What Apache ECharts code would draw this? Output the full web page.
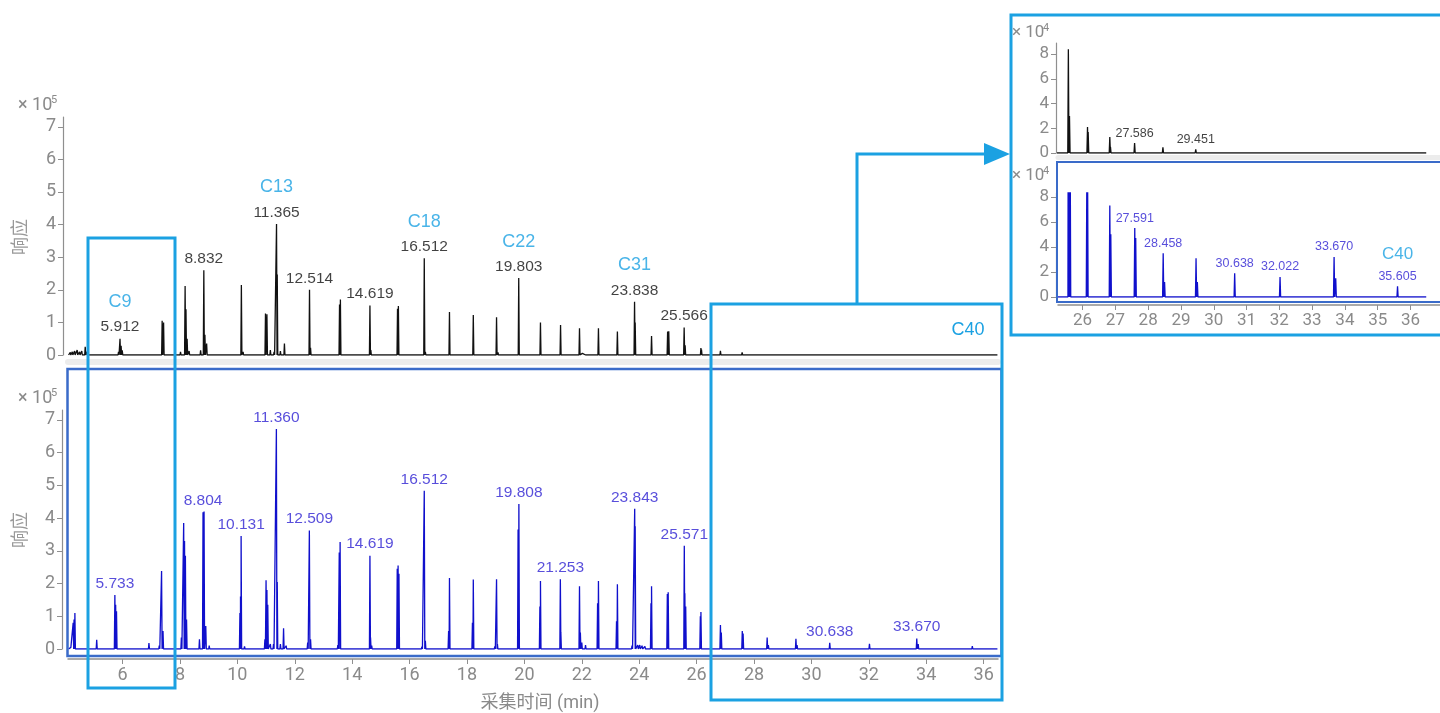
<!DOCTYPE html>
<html><head><meta charset="utf-8">
<script src="https://cdn.jsdelivr.net/npm/echarts@6/dist/echarts.min.js"></script>
<style>html,body{margin:0;padding:0;background:#fff}#c{width:1440px;height:713px}</style>
</head><body><div id="c"></div>
<script>
// ---- data: peaks as [retention time (min), response (x10^5)] ----
const blackPeaks = [
 [4.18,0.08],[4.25,0.1],[4.33,0.12],[4.42,0.15],[4.5,0.1],[4.58,0.12],[4.7,0.25],[4.76,0.1],
 [5.05,0.04],[5.25,0.05],[5.4,0.03],
 [5.86,0.1],[5.912,0.5],[5.95,0.28],[5.99,0.14],
 [6.35,0.03],[6.9,0.06],[7.2,0.04],
 [7.38,1.05],[7.43,1.0],[7.6,0.04],
 [8.02,0.1],[8.18,2.12],[8.21,1.4],[8.25,0.5],[8.32,0.12],
 [8.72,0.14],[8.832,2.6],[8.87,0.62],[8.93,0.35],
 [9.45,0.04],[9.85,0.05],
 [10.14,2.15],[10.2,0.1],
 [10.98,1.27],[11.03,1.25],[11.15,0.15],[11.28,0.1],
 [11.365,4.02],[11.39,2.47],[11.5,0.12],[11.64,0.35],[11.78,0.06],
 [12.514,2.0],[12.55,0.22],
 [13.56,1.55],[13.59,1.7],[13.85,0.05],
 [14.619,1.52],[14.65,0.15],
 [15.58,1.42],[15.61,1.5],
 [16.512,2.97],[16.55,0.1],
 [17.39,1.32],
 [18.22,1.23],
 [19.03,1.16],[19.08,0.08],
 [19.803,2.36],
 [20.56,1.0],
 [21.26,0.92],
 [21.92,0.82],[22.02,0.05],[22.15,0.04],
 [22.58,0.82],
 [23.24,0.72],
 [23.838,1.63],[23.86,1.0],[24.0,0.04],
 [24.43,0.58],
 [24.99,0.72],[25.03,0.73],
 [25.566,0.84],[25.6,0.3],
 [26.15,0.21],[26.17,0.17],[26.83,0.13],[26.85,0.05],[27.586,0.08],[28.45,0.045],[29.451,0.03],
 [30.66,0.012],[32.07,0.006],[33.69,0.008]
];
const bluePeaks = [
 [4.2,0.05],[4.28,0.8],[4.31,0.9],[4.34,1.1],[4.45,0.06],[4.6,0.05],[4.88,0.04],
 [5.1,0.28],[5.3,0.04],[5.5,0.03],
 [5.733,1.65],[5.76,1.35],[5.79,1.15],[5.9,0.05],
 [6.2,0.04],[6.6,0.03],[6.92,0.18],[7.0,0.06],
 [7.28,0.1],[7.36,2.38],[7.41,0.55],[7.55,0.06],[7.75,0.05],
 [8.05,0.35],[8.13,3.85],[8.16,3.3],[8.19,2.85],[8.23,0.9],[8.35,0.06],
 [8.68,0.3],[8.804,4.18],[8.84,4.2],[8.9,0.7],[9.02,0.1],
 [9.45,0.06],[9.65,0.06],
 [10.09,1.1],[10.11,1.6],[10.131,3.45],[10.25,0.08],
 [10.75,0.06],[10.96,0.3],[11.0,2.1],[11.03,1.8],[11.06,1.35],[11.15,0.15],[11.26,0.15],
 [11.36,6.72],[11.39,2.05],[11.5,0.15],[11.61,0.63],[11.7,0.1],[11.85,0.06],
 [12.45,0.2],[12.509,3.62],[12.55,0.3],[12.68,0.05],
 [13.25,0.04],[13.5,0.12],[13.55,2.95],[13.58,3.27],
 [14.619,2.85],[14.64,0.35],[14.68,0.1],
 [15.57,2.45],[15.6,2.55],[15.63,2.3],
 [16.05,0.04],[16.43,0.07],[16.512,4.83],[16.55,0.25],
 [17.36,0.55],[17.39,2.17],
 [18.19,0.8],[18.22,2.12],
 [18.97,0.08],[19.03,2.13],[19.06,0.15],
 [19.78,3.65],[19.808,4.43],
 [20.54,1.3],[20.56,2.08],
 [21.253,2.13],[21.27,0.5],
 [21.92,1.92],[21.95,0.5],[22.0,0.2],[22.13,0.12],
 [22.55,1.4],[22.58,2.08],
 [23.21,0.85],[23.24,1.98],
 [23.4,0.05],[23.55,0.06],[23.75,0.1],[23.843,4.28],[23.86,3.75],[23.95,0.12],[24.02,0.12],[24.1,0.1],[24.2,0.08],
 [24.41,1.4],[24.43,1.92],
 [24.98,1.68],[25.01,1.73],
 [25.571,3.15],[25.59,1.7],[25.62,1.3],
 [26.13,1.0],[26.15,1.13],
 [26.83,0.73],[26.86,0.5],
 [27.591,0.55],[27.62,0.47],
 [28.458,0.35],[28.5,0.12],
 [29.46,0.31],[29.5,0.12],
 [30.638,0.19],
 [32.022,0.16],
 [33.67,0.32],[33.72,0.15],
 [35.605,0.085]
];
const traceSpan = [4.12, 36.48];
// labels: [retention time, text, compound]
const blackMainLabels = [[5.912,'5.912','C9'],[8.832,'8.832',''],[11.365,'11.365','C13'],[12.514,'12.514',''],[14.619,'14.619',''],[16.512,'16.512','C18'],[19.803,'19.803','C22'],[23.838,'23.838','C31'],[25.566,'25.566','']];
const blueMainLabels = [[5.733,'5.733',''],[8.804,'8.804',''],[10.131,'10.131',''],[11.36,'11.360',''],[12.509,'12.509',''],[14.619,'14.619',''],[16.512,'16.512',''],[19.808,'19.808',''],[21.253,'21.253',''],[23.843,'23.843',''],[25.571,'25.571',''],[30.638,'30.638',''],[33.67,'33.670','']];
const blackInsetLabels = [[27.586,'27.586',''],[29.451,'29.451','']];
const blueInsetLabels = [[27.591,'27.591',''],[28.458,'28.458',''],[30.638,'30.638',''],[32.022,'32.022',''],[33.67,'33.670',''],[35.605,'35.605','C40']];
const mainXTicks = [6,8,10,12,14,16,18,20,22,24,26,28,30,32,34,36];
const mainYTicks = [0,1,2,3,4,5,6,7];
const insetXTicks = [26,27,28,29,30,31,32,33,34,35,36];
const insetYTicks = [0,2,4,6,8];
const insetScale = 10; // inset axes are in x10^4

// ---- build ----
const W = 0.018;
function trace(peaks, scale){
  const s = peaks.slice().sort((a,b)=>a[0]-b[0]);
  const pts = [[traceSpan[0],0]];
  s.forEach(([t,h])=>{ pts.push([t-W,0],[t,h*scale],[t+W,0]); });
  pts.push([traceSpan[1],0]);
  return pts;
}
function heightAt(peaks,t){ const p = peaks.find(q=>Math.abs(q[0]-t)<1e-9); return p?p[1]:0; }
function labelData(peaks, labels, scale){
  return labels.map(([t,txt,cmp])=>({value:[t, heightAt(peaks,t)*scale], lbl: cmp ? '{cmp|'+cmp+'}\n{num|'+txt+'}' : '{num|'+txt+'}'}));
}
const CYAN = '#1ba1e2', NAVY = '#3a6bc9', GRAY = '#8a8a8a', AXIS = '#8f8f8f';
const BLK = '#111111', BLU = '#1010cc', BLUTXT = '#2e22d2';
const FONT = 'Roboto, "Liberation Sans", Arial, sans-serif';
const LFONT = '"Liberation Sans", Arial, sans-serif';

function xAx(grid, min, max, opt){
  return Object.assign({type:'value', gridIndex:grid, min:min, max:max, splitLine:{show:false}}, opt);
}
function yAx(grid, max, ticks, fs, offset){
  return {type:'value', gridIndex:grid, min:0, max:max, offset:offset, splitLine:{show:false},
    axisLine:{show:true, onZero:false, lineStyle:{color:AXIS, width:1.2}},
    axisTick:{show:true, customValues:ticks, length:5, lineStyle:{color:AXIS}},
    axisLabel:{show:true, customValues:ticks, color:GRAY, fontSize:fs, fontFamily:FONT, margin:7}};
}
function labelSeries(xi, data, numColor, numSize, numLH, cmpSize, cmpLH){
  return {type:'scatter', xAxisIndex:xi, yAxisIndex:xi, data:data, symbolSize:1, silent:true,
    itemStyle:{color:'rgba(0,0,0,0)'}, z:5,
    label:{show:true, position:'top', distance:2, formatter:p=>p.data.lbl,
      rich:{num:{color:numColor, fontSize:numSize, lineHeight:numLH, fontFamily:LFONT},
            cmp:{color:CYAN, fontSize:cmpSize, lineHeight:cmpLH, fontFamily:LFONT}}}};
}
function lineSeries(xi, data, color){
  return {type:'line', xAxisIndex:xi, yAxisIndex:xi, data:data, symbol:'none', clip:true,
    lineStyle:{color:color, width:1.3}, silent:true, z:3};
}
function txt(x,y,text,size,color,extra){
  return Object.assign({type:'text', x:x, y:y, z:100, style:{text:text, fill:color, fontSize:size, fontFamily:FONT, align:'left', verticalAlign:'middle'}}, extra||{});
}
function sci(x, y, sup, size){
  return [txt(x,y,'× 10',size,GRAY), txt(x+ (size===18?33:31), y-5, sup, Math.round(size*0.62), GRAY)];
}

const chart = echarts.init(document.getElementById('c'), null, {renderer:'canvas'});
const option = {
  animation:false,
  backgroundColor:'#ffffff',
  grid:[
    {left:68, top:117, width:930, height:238},
    {left:68, top:410, width:930, height:239},
    {left:1058, top:43, width:382, height:110},
    {left:1058, top:193, width:382, height:104}
  ],
  xAxis:[
    xAx(0, 4.1, 36.5, {offset:7, axisLine:{show:true,onZero:false,lineStyle:{color:'#ececec',width:6}}, axisTick:{show:false}, axisLabel:{show:false}}),
    xAx(1, 4.1, 36.5, {offset:10, axisLine:{show:true,onZero:false,lineStyle:{color:AXIS,width:1.5}},
       axisTick:{show:true, customValues:mainXTicks, length:5, lineStyle:{color:AXIS}},
       axisLabel:{show:true, customValues:mainXTicks, color:GRAY, fontSize:18, fontFamily:FONT, margin:7}}),
    xAx(2, 25.25, 36.9, {offset:4, axisLine:{show:true,onZero:false,lineStyle:{color:'#ececec',width:5}}, axisTick:{show:false}, axisLabel:{show:false}}),
    xAx(3, 25.25, 36.9, {offset:8, axisLine:{show:true,onZero:false,lineStyle:{color:AXIS,width:1.5}},
       axisTick:{show:true, customValues:insetXTicks, length:5, lineStyle:{color:AXIS}},
       axisLabel:{show:true, customValues:insetXTicks, color:GRAY, fontSize:17, fontFamily:FONT, margin:7}})
  ],
  yAxis:[
    yAx(0, 7.3, mainYTicks, 18, 5),
    yAx(1, 7.3, mainYTicks, 18, 6),
    yAx(2, 8.9, insetYTicks, 17, 2),
    yAx(3, 8.3, insetYTicks, 17, 2)
  ],
  series:[
    lineSeries(0, trace(blackPeaks,1), BLK),
    lineSeries(1, trace(bluePeaks,1), BLU),
    lineSeries(2, trace(blackPeaks,insetScale), BLK),
    lineSeries(3, trace(bluePeaks,insetScale), BLU),
    labelSeries(0, labelData(blackPeaks, blackMainLabels, 1), BLK, 15.5, 18, 18, 32),
    labelSeries(1, labelData(bluePeaks, blueMainLabels, 1), BLUTXT, 15.5, 18, 18, 32),
    labelSeries(2, labelData(blackPeaks, blackInsetLabels, insetScale), BLK, 12.5, 15, 17, 29),
    labelSeries(3, labelData(bluePeaks, blueInsetLabels, insetScale), BLUTXT, 12.5, 15, 17, 29)
  ],
  graphic:[
    {type:'rect', z:90, shape:{x:67.5,y:369,width:934,height:287}, style:{fill:'none', stroke:NAVY, lineWidth:2.5}},
    {type:'rect', z:90, shape:{x:1057,y:162,width:400,height:140}, style:{fill:'none', stroke:NAVY, lineWidth:2}},
    {type:'rect', z:95, shape:{x:88,y:238,width:87,height:450}, style:{fill:'none', stroke:CYAN, lineWidth:3}},
    {type:'rect', z:95, shape:{x:711,y:304,width:291,height:396}, style:{fill:'none', stroke:CYAN, lineWidth:3}},
    {type:'rect', z:95, shape:{x:1011,y:15,width:440,height:320}, style:{fill:'none', stroke:CYAN, lineWidth:3}},
    {type:'polyline', z:95, shape:{points:[[857,304],[857,154],[990,154]]}, style:{fill:'none', stroke:CYAN, lineWidth:3}},
    {type:'polygon', z:95, shape:{points:[[984,143],[1010,154],[984,165]]}, style:{fill:CYAN}},
    txt(968,330,'C40',18,CYAN,{style:{text:'C40', fill:CYAN, fontSize:18, fontFamily:LFONT, align:'center', verticalAlign:'middle'}}),
    ...sci(18,105,'5',18),
    ...sci(18,398,'5',18),
    ...sci(1012,33,'4',17),
    ...sci(1012,176,'4',17),
    {type:'text', z:100, x:19, y:237, rotation:Math.PI/2, style:{text:'响应', fill:'#999', fontSize:18, fontFamily:'"Noto Sans CJK SC", sans-serif', align:'center', verticalAlign:'middle'}},
    {type:'text', z:100, x:19, y:530, rotation:Math.PI/2, style:{text:'响应', fill:'#999', fontSize:18, fontFamily:'"Noto Sans CJK SC", sans-serif', align:'center', verticalAlign:'middle'}},
    {type:'text', z:100, x:540, y:703, style:{text:'采集时间 (min)', fill:GRAY, fontSize:18, fontFamily:'Roboto, "Noto Sans CJK SC", sans-serif', align:'center', verticalAlign:'middle'}}
  ]
};
chart.setOption(option);
</script></body></html>
